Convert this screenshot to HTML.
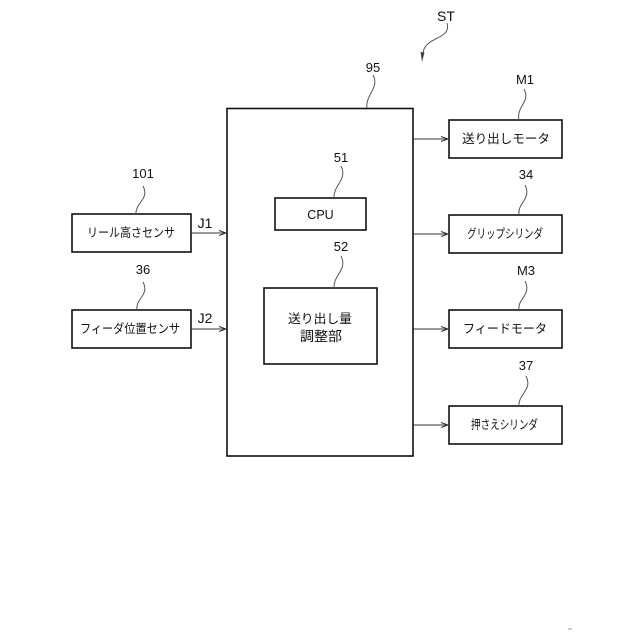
<!DOCTYPE html>
<html><head><meta charset="utf-8"><style>
html,body{margin:0;padding:0;background:#fff}
svg{display:block}
text{font-family:"Liberation Sans","Noto Sans CJK JP",sans-serif;fill:#111;text-anchor:middle}
.b{fill:#fff;stroke:#111;stroke-width:1.6}
.l{fill:none;stroke:#333;stroke-width:1}
.w{fill:none;stroke:#555;stroke-width:1}
.t{font-size:12.5px}
.s{font-size:12.5px;text-anchor:start}
.n{font-size:13px}
</style></head><body>
<svg width="640" height="640" viewBox="0 0 640 640" xmlns="http://www.w3.org/2000/svg">
<rect class="b" x="227" y="108.500" width="186" height="347.500"/>
<rect class="b" x="72" y="214" width="119" height="38"/>
<rect class="b" x="72" y="310" width="119" height="38"/>
<rect class="b" x="275" y="198" width="91" height="32"/>
<rect class="b" x="264" y="288" width="113" height="76"/>
<rect class="b" x="449" y="120" width="113" height="38"/>
<rect class="b" x="449" y="215" width="113" height="38"/>
<rect class="b" x="449" y="310" width="113" height="38"/>
<rect class="b" x="449" y="406" width="113" height="38"/>

<path class="l" d="M191 233H226M219 230.500L226 233L219 235.500"/>
<path class="l" d="M191 329H226M219 326.500L226 329L219 331.500"/>
<path class="l" d="M413 139H448M441 136.500L448 139L441 141.500"/>
<path class="l" d="M413 234H448M441 231.500L448 234L441 236.500"/>
<path class="l" d="M413 329H448M441 326.500L448 329L441 331.500"/>
<path class="l" d="M413 425H448M441 422.500L448 425L441 427.500"/>

<path class="w" d="M447 23C452 40 425 36 423 53"/>
<path d="M420.500 52L424.500 52.500L422 62Z" fill="#444"/>
<path class="w" d="M373 75C380 88 365 95 367 108"/>
<path class="w" d="M524 89C531 102 516 106 519 120"/>
<path class="w" d="M143 186C150 199 135 203 136 214"/>
<path class="w" d="M143 282C150 295 135 299 137 310"/>
<path class="w" d="M341 166C348 180 333 185 334 198"/>
<path class="w" d="M341 256C348 270 333 275 334 288"/>
<path class="w" d="M525 185C532 199 517 203 519 215"/>
<path class="w" d="M525 281C532 295 517 299 519 310"/>
<path class="w" d="M526 376C533 390 518 394 519 406"/>

<text class="n" x="446" y="21" style="font-size:14px">ST</text>
<text class="n" x="373" y="72">95</text>
<text class="n" x="525" y="84">M1</text>
<text class="n" x="143" y="178">101</text>
<text class="n" x="143" y="274">36</text>
<text class="n" x="341" y="162">51</text>
<text class="n" x="341" y="251">52</text>
<text class="n" x="526" y="179">34</text>
<text class="n" x="526" y="275">M3</text>
<text class="n" x="526" y="370">37</text>
<text class="n" x="205" y="228" style="font-size:14px">J1</text>
<text class="n" x="205" y="323" style="font-size:14px">J2</text>

<text class="s" x="87" y="237" textLength="88" lengthAdjust="spacingAndGlyphs">リール高さセンサ</text>
<text class="s" x="80" y="333" textLength="100" lengthAdjust="spacingAndGlyphs">フィーダ位置センサ</text>
<text class="t" x="320.500" y="219">CPU</text>
<text class="s" x="288" y="323" textLength="64" lengthAdjust="spacingAndGlyphs">送り出し量</text>
<text class="s" x="300" y="341" style="font-size:13.500px" textLength="42" lengthAdjust="spacingAndGlyphs">調整部</text>
<text class="s" x="462" y="143" textLength="88" lengthAdjust="spacingAndGlyphs">送り出しモータ</text>
<text class="s" x="467" y="238" textLength="76" lengthAdjust="spacingAndGlyphs">グリップシリンダ</text>
<text class="s" x="463" y="333" textLength="84" lengthAdjust="spacingAndGlyphs">フィードモータ</text>
<text class="s" x="471" y="429" textLength="67" lengthAdjust="spacingAndGlyphs">押さえシリンダ</text>
<rect x="568" y="628" width="4" height="2" fill="#ccc"/>
</svg>
</body></html>
